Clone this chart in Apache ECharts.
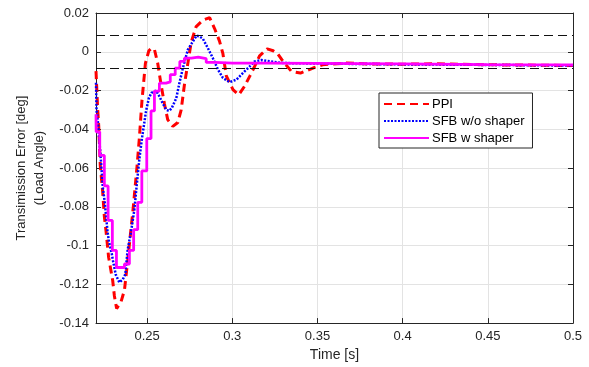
<!DOCTYPE html>
<html>
<head>
<meta charset="utf-8">
<title>Transmission Error</title>
<script src="https://cdn.jsdelivr.net/npm/echarts@6/dist/echarts.min.js"></script>
<style>
    html, body { margin: 0; padding: 0; background: #fff; }
    #chart_error { width: 589px; height: 367px; }
</style>
</head>
<body>
<div id="chart_error"></div>
<script>
// Series data
var ppiTime = [0.2200, 0.2204, 0.2210, 0.2216, 0.2225, 0.2239, 0.2249, 0.2259, 0.2274, 0.2298,
    0.2308, 0.2321, 0.2347, 0.2367, 0.2386, 0.2400, 0.2419, 0.2440, 0.2455, 0.2470,
    0.2490, 0.2510, 0.2525, 0.2543, 0.2562, 0.2582, 0.2602, 0.2621, 0.2651, 0.2680,
    0.2700, 0.2719, 0.2739, 0.2759, 0.2788, 0.2827, 0.2867, 0.2896, 0.2925, 0.2945,
    0.2965, 0.3004, 0.3038, 0.3072, 0.3102, 0.3131, 0.3160, 0.3205, 0.3240, 0.3268,
    0.3298, 0.3347, 0.3400, 0.3474, 0.3530, 0.3670, 0.3800, 0.4000, 0.4200, 0.4500, 0.5000];
var ppiError = [-0.0100, -0.0180, -0.0300, -0.0382, -0.0586, -0.0721, -0.0850, -0.0926, -0.1060, -0.1180,
    -0.1260, -0.1325, -0.1290, -0.1230, -0.1080, -0.0960, -0.0800, -0.0600, -0.0440, -0.0250,
    -0.0060, 0.0005, 0.0018, 0.0012, -0.0058, -0.0170, -0.0270, -0.0350, -0.0385, -0.0365,
    -0.0300, -0.0170, -0.0060, 0.0050, 0.0130, 0.0163, 0.0176, 0.0120, 0.0055, -0.0010,
    -0.0125, -0.0195, -0.0222, -0.0178, -0.0127, -0.0076, -0.0021, 0.0015, 0.0005, -0.0012,
    -0.0050, -0.0101, -0.0110, -0.0084, -0.0067, -0.0058, -0.0063, -0.0064, -0.0062, -0.0067, -0.0071];

var sfbTime = [0.2200, 0.2203, 0.2212, 0.2222, 0.2228, 0.2240, 0.2252, 0.2268, 0.2276, 0.2292,
    0.2300, 0.2316, 0.2337, 0.2357, 0.2372, 0.2386, 0.2406, 0.2425, 0.2440, 0.2455,
    0.2470, 0.2494, 0.2510, 0.2525, 0.2553, 0.2572, 0.2590, 0.2612, 0.2630, 0.2645,
    0.2671, 0.2690, 0.2710, 0.2739, 0.2768, 0.2790, 0.2805, 0.2827, 0.2857, 0.2886,
    0.2916, 0.2945, 0.2984, 0.3024, 0.3063, 0.3102, 0.3131, 0.3170, 0.3239, 0.3300,
    0.3500, 0.4000, 0.4500, 0.5000];
var sfbError = [-0.0160, -0.0300, -0.0370, -0.0380, -0.0552, -0.0700, -0.0780, -0.0930, -0.0980, -0.1040,
    -0.1080, -0.1150, -0.1190, -0.1175, -0.1148, -0.1020, -0.0927, -0.0816, -0.0680, -0.0550,
    -0.0445, -0.0305, -0.0240, -0.0212, -0.0200, -0.0230, -0.0263, -0.0300, -0.0305, -0.0290,
    -0.0240, -0.0160, -0.0084, 0.0010, 0.0052, 0.0083, 0.0080, 0.0068, 0.0018, -0.0033,
    -0.0092, -0.0135, -0.0157, -0.0144, -0.0109, -0.0076, -0.0050, -0.0043, -0.0052, -0.0058,
    -0.0061, -0.0065, -0.0068, -0.0071];

// shaper output is a staircase: each value holds until the next time
var shaperTime = [0.2200, 0.2201, 0.2222, 0.2249, 0.2271, 0.2296, 0.2320, 0.2367, 0.2396, 0.2421,
    0.2445, 0.2469, 0.2498, 0.2523, 0.2543, 0.2572, 0.2611, 0.2636, 0.2665, 0.2692,
    0.2719, 0.2760, 0.2800, 0.2847, 0.2900, 0.3000, 0.3200, 0.3500, 0.4000, 0.4500, 0.5000];
var shaperError = [-0.0322, -0.0413, -0.0535, -0.0692, -0.0870, -0.1025, -0.1113, -0.1095, -0.1025, -0.0918,
    -0.0777, -0.0615, -0.0448, -0.0305, -0.0203, -0.0162, -0.0155, -0.0118, -0.0084, -0.0050,
    -0.0033, -0.0028, -0.0036, -0.0055, -0.0059, -0.0059, -0.0060, -0.0063, -0.0066, -0.0068, -0.0071];

// Tolerance band
var bandLimits = [0.0086, -0.0083];

var seriesNames = ['PPI', 'SFB w/o shaper', 'SFB w shaper'];

function toPairs(xs, ys) {
    var out = [];
    for (var i = 0; i < xs.length; i++) {
        out.push([xs[i], ys[i]]);
    }
    return out;
}

// Define element
var chart_element = document.getElementById('chart_error');
var chart_error = echarts.init(chart_element, null, { renderer: 'canvas' });

var fontFamily = '"Liberation Sans", Arial, Helvetica, sans-serif';
var textColor = '#262626';
var gridColor = '#e3e3e3';

// Options
chart_error.setOption({
    animation: false,
    backgroundColor: '#fff',
    textStyle: {
        fontFamily: fontFamily
    },

    grid: {
        left: 96,
        right: 16,
        top: 13,
        bottom: 41
    },

    legend: {
        data: seriesNames,
        orient: 'vertical',
        left: 379,
        top: 93,
        itemWidth: 45,
        itemHeight: 14,
        itemGap: 3,
        padding: [4, 8, 3, 4],
        backgroundColor: '#fff',
        borderColor: '#262626',
        borderWidth: 1,
        borderRadius: 0,
        itemStyle: { opacity: 0 },
        lineStyle: { opacity: 1 },
        textStyle: {
            fontFamily: fontFamily,
            fontSize: 13,
            lineHeight: 14,
            color: '#000',
            padding: [0, 0, 0, -2]
        }
    },

    // Horizontal axis
    xAxis: [{
        type: 'value',
        min: 0.22,
        max: 0.5,
        name: 'Time [s]',
        nameLocation: 'middle',
        nameGap: 21,
        nameTextStyle: {
            fontFamily: fontFamily,
            fontSize: 14,
            color: textColor
        },
        axisLine: { onZero: false, lineStyle: { color: textColor, width: 1 } },
        axisTick: { inside: true, length: 5, lineStyle: { color: textColor } },
        axisLabel: {
            margin: 7,
            fontSize: 13,
            color: textColor,
            fontFamily: fontFamily,
            formatter: function (v) {
                var k = Math.round(v * 100);
                return (k % 5 === 0) ? String(+v.toFixed(2)) : '';
            }
        },
        splitLine: { show: true, lineStyle: { color: gridColor, width: 1 } }
    }, {
        type: 'value',
        position: 'top',
        min: 0.22,
        max: 0.5,
        axisLine: { show: true, onZero: false, lineStyle: { color: textColor, width: 1 } },
        axisTick: { inside: true, length: 5, lineStyle: { color: textColor } },
        axisLabel: { show: false },
        splitLine: { show: false }
    }],

    // Vertical axis
    yAxis: [{
        type: 'value',
        min: -0.14,
        max: 0.02,
        interval: 0.02,
        name: 'Transimission Error [deg]\n(Load Angle)',
        nameLocation: 'middle',
        nameGap: 47,
        nameTextStyle: {
            fontFamily: fontFamily,
            fontSize: 13,
            lineHeight: 18,
            color: textColor
        },
        axisLine: { show: true, onZero: false, lineStyle: { color: textColor, width: 1 } },
        axisTick: { inside: true, length: 5, lineStyle: { color: textColor } },
        axisLabel: {
            margin: 7,
            fontSize: 13,
            color: textColor,
            fontFamily: fontFamily,
            formatter: function (v) {
                return String(+v.toFixed(2));
            }
        },
        splitLine: { show: true, lineStyle: { color: gridColor, width: 1 } }
    }, {
        type: 'value',
        position: 'right',
        min: -0.14,
        max: 0.02,
        interval: 0.02,
        axisLine: { show: true, onZero: false, lineStyle: { color: textColor, width: 1 } },
        axisTick: { inside: true, length: 5, lineStyle: { color: textColor } },
        axisLabel: { show: false },
        splitLine: { show: false }
    }],

    // Add series
    series: [
        {
            name: seriesNames[0],
            type: 'line',
            symbol: 'none',
            color: '#ff0000',
            lineStyle: { color: '#ff0000', width: 3, type: [8, 5] },
            data: toPairs(ppiTime, ppiError)
        },
        {
            name: seriesNames[1],
            type: 'line',
            symbol: 'none',
            color: '#0000ff',
            lineStyle: { color: '#0000ff', width: 2.5, type: [2, 1.5] },
            data: toPairs(sfbTime, sfbError)
        },
        {
            name: seriesNames[2],
            type: 'line',
            step: 'end',
            symbol: 'none',
            color: '#ff00ff',
            lineStyle: { color: '#ff00ff', width: 2.8 },
            data: toPairs(shaperTime, shaperError),
            markLine: {
                silent: true,
                precision: 4,
                symbol: ['none', 'none'],
                label: { show: false },
                lineStyle: { color: '#111', width: 1.2, type: [9, 5] },
                data: [
                    { yAxis: bandLimits[0] },
                    { yAxis: bandLimits[1] }
                ]
            }
        }
    ]
});
</script>
</body>
</html>
